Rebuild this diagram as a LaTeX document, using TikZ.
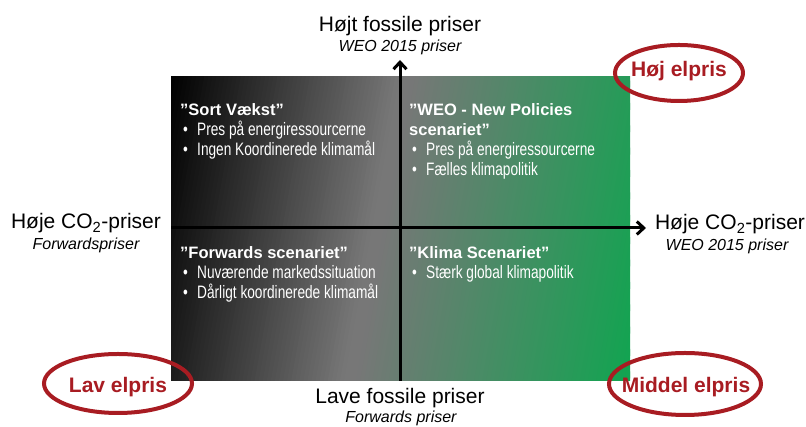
\documentclass[tikz,border=0pt]{standalone}
\usepackage{fontspec}
\setmainfont{Liberation Sans}
\newfontfamily\narrowfont[FakeStretch=0.76]{Liberation Sans}
\usetikzlibrary{arrows.meta,shapes.geometric}
\definecolor{qgray}{HTML}{777777}
\definecolor{qgreen}{HTML}{10A550}
\definecolor{elred}{HTML}{A81C22}
\begin{document}
\begin{tikzpicture}[x=1pt,y=1pt,
  axisline/.style={line width=3pt,-{Straight Barb[length=7pt,width=13pt]}},
  lab/.style={font=\fontsize{21}{24}\selectfont,inner sep=0pt,anchor=base},
  sublab/.style={font=\fontsize{16}{19}\selectfont\itshape,inner sep=0pt,anchor=base},
  qtitle/.style={font=\fontsize{16.5}{20}\selectfont\bfseries,text=white,inner sep=0pt,anchor=base west},
  qitem/.style={font=\narrowfont\fontsize{18}{20}\selectfont,text=white,inner sep=0pt,anchor=base west},
  elabel/.style={font=\fontsize{21}{24}\selectfont\bfseries,text=elred,inner sep=0pt,anchor=base},
  ering/.style={draw=elred,line width=4pt,ellipse,inner sep=0pt}]
\useasboundingbox (0,0) rectangle (806,427);
% background field
\coordinate (rectSW) at (171,46);
\coordinate (rectNE) at (630,350);
\begin{scope}
  \clip (rectSW) rectangle (rectNE);
  \begin{scope}[rotate around={-10.3:(400,198)}]
    \foreach \u in {-284,-280,...,284} {
      \pgfmathsetmacro\pa{max(0,min(100,(\u+255)/225*100))}
      \pgfmathsetmacro\pb{max(0,min(100,(\u+18)/273*100))}
      \fill[fill={qgreen!\pb!qgray!\pa!black}] (400+\u,-300) rectangle (405+\u,700);
    }
  \end{scope}
\end{scope}
% axes
\coordinate (vbot) at (400,46);
\coordinate (vtop) at (400,367);
\coordinate (hleft) at (171,199);
\coordinate (hright) at (646,199);
\draw[axisline] (vbot) -- (vtop);
\draw[axisline] (hleft) -- (hright);
% axis labels
\node[lab] (topA) at (400,395) {Højt fossile priser};
\node[sublab] (topB) at (400,375) {WEO 2015 priser};
\node[lab] (leftA) at (86,198) {Høje CO\textsubscript{2}-priser};
\node[sublab] (leftB) at (86,177) {Forwardspriser};
\node[lab] (rightA) at (730,197) {Høje CO\textsubscript{2}-priser};
\node[sublab] (rightB) at (727,176) {WEO 2015 priser};
\node[lab] (botA) at (400,23) {Lave fossile priser};
\node[sublab] (botB) at (401,4) {Forwards priser};
% quadrant TL
\node[qtitle] (tlT) at (180,311) {”Sort Vækst”};
\node[qitem] (tlB1) at (183,291) {•};
\node[qitem] (tlI1) at (197,291) {Pres på energiressourcerne};
\node[qitem] (tlB2) at (183,271) {•};
\node[qitem] (tlI2) at (197,271) {Ingen Koordinerede klimamål};
% quadrant TR
\node[qtitle] (trT1) at (409,311) {”WEO - New Policies};
\node[qtitle] (trT2) at (409,291) {scenariet”};
\node[qitem] (trB1) at (412,271) {•};
\node[qitem] (trI1) at (426,271) {Pres på energiressourcerne};
\node[qitem] (trB2) at (412,251) {•};
\node[qitem] (trI2) at (426,251) {Fælles klimapolitik};
% quadrant BL
\node[qtitle] (blT) at (180,168) {”Forwards scenariet”};
\node[qitem] (blB1) at (183,148) {•};
\node[qitem] (blI1) at (197,148) {Nuværende markedssituation};
\node[qitem] (blB2) at (183,128) {•};
\node[qitem] (blI2) at (197,128) {Dårligt koordinerede klimamål};
% quadrant BR
\node[qtitle] (brT) at (409,168) {”Klima Scenariet”};
\node[qitem] (brB1) at (412,148) {•};
\node[qitem] (brI1) at (426,148) {Stærk global klimapolitik};
% price ellipses
\node[ering,minimum width=128pt,minimum height=56pt] (hojE) at (679,354) {};
\node[elabel] (hojT) at (679,350) {Høj elpris};
\node[ering,minimum width=148pt,minimum height=59pt] (lavE) at (118,43.5) {};
\node[elabel] (lavT) at (118,34) {Lav elpris};
\node[ering,minimum width=152pt,minimum height=62pt] (midE) at (685,43) {};
\node[elabel] (midT) at (686,34) {Middel elpris};
\end{tikzpicture}
\end{document}
